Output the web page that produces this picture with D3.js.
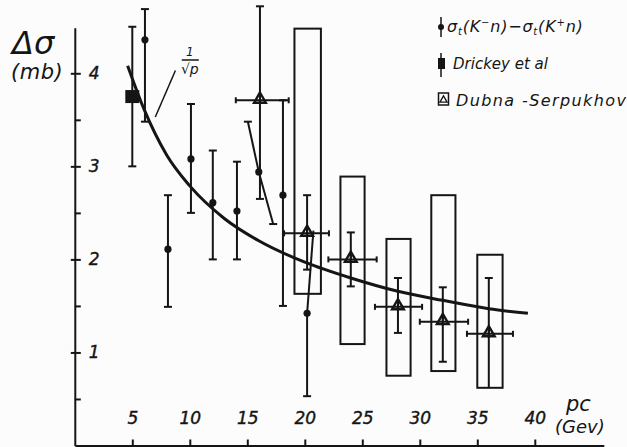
<!DOCTYPE html>
<html>
<head>
<meta charset="utf-8">
<script src="https://cdn.jsdelivr.net/npm/d3@7/dist/d3.min.js"></script>
<style>
  html, body { margin: 0; padding: 0; background: #fcfcfc; }
  svg { display: block; }
  text { font-family: "DejaVu Sans", sans-serif; font-style: italic; fill: #151515; }
</style>
</head>
<body>
<svg id="chart" width="627" height="447"></svg>
<script>
// ---------- data ----------
// sigma_t(K-n) - sigma_t(K+n): filled dots with error bars
const dotP  = [6.1, 8.1, 10.1, 12.0, 14.1, 16.0, 18.1, 20.2];
const dotF  = [4.36, 2.11, 3.08, 2.61, 2.52, 2.94, 2.69, 1.42];
const dotLo = [3.48, 1.49, 2.50, 2.00, 2.00, 2.38, 1.50, 0.53];
const dotHi = [4.69, 2.69, 3.67, 3.17, 3.05, 3.48, 3.71, 2.31];
// horizontal offset (GeV) of the bar ends where the bar is drawn askew
const dotLoShift = [0, 0, 0, 0, 0, 1.25, 0, 0];
const dotHiShift = [0, 0, 0, 0, 0, -0.95, 0, 0.55];

// Drickey et al
const drickeyP = [5.0];
const drickeyF = [3.75];
const drickeyLo = [3.0];
const drickeyHi = [4.5];

// Dubna - Serpukhov: triangles with x and y errors
const triP   = [16.1, 20.2, 24.0, 28.1, 32.0, 36.0];
const triF   = [3.71, 2.28, 2.00, 1.49, 1.33, 1.20];
const triLo  = [2.65, 1.89, 1.71, 1.21, 0.90, 0.62];
const triHi  = [4.72, 2.69, 2.29, 1.80, 1.70, 1.80];
const triPLo = [14.0, 18.2, 22.05, 26.1, 30.0, 34.1];
const triPHi = [18.6, 22.1, 26.25, 30.2, 34.2, 38.1];

// Dubna - Serpukhov systematic boxes
const boxPLo = [19.1, 23.1, 27.1, 31.0, 35.0];
const boxPHi = [21.4, 25.2, 29.2, 33.1, 37.2];
const boxLo  = [1.63, 1.09, 0.75, 0.80, 0.62];
const boxHi  = [4.48, 2.89, 2.22, 2.69, 2.05];

// 1/sqrt(p) curve, points
const curveP = [4.6, 6, 8, 10, 13, 16, 20, 24, 28, 32, 36, 39.4];
const curveF = [4.08, 3.62, 3.12, 2.79, 2.44, 2.2, 1.97, 1.80, 1.66, 1.56, 1.47, 1.42];

// ticks
const xTicks = [5, 10, 15, 20, 25, 30, 35, 40];
const yTicks = [1, 2, 3, 4];
const yMinorTicks = [0.5, 1.5, 2.5, 3.5];

// ---------- drawing ----------
const ink = "#151515";
const svg = d3.select("#chart");
const x = d3.scaleLinear().domain([0, 46]).range([74.8, 603.8]);
const y = d3.scaleLinear().domain([0, 4.49]).range([445.5, 27.7]);

// x axis (ticks pointing up, labels above)
const xAxis = svg.append("g")
  .attr("transform", `translate(0,${y(0)})`)
  .call(d3.axisTop(x).tickValues(xTicks).tickSize(6).tickSizeOuter(0).tickPadding(16).tickFormat(d3.format("d")));
xAxis.select(".domain").attr("stroke", ink).attr("stroke-width", 2);
xAxis.selectAll(".tick line").attr("stroke", ink).attr("stroke-width", 2);
xAxis.selectAll(".tick text")
  .attr("fill", ink).attr("font-size", 17).attr("font-style", "italic")
  .attr("font-family", "DejaVu Sans, sans-serif")
  .attr("stroke", ink).attr("stroke-width", 0.4);

// y axis
const yAxis = svg.append("g")
  .attr("transform", `translate(${x(0)},0)`)
  .call(d3.axisRight(y).tickValues(yTicks).tickSize(6).tickSizeOuter(0).tickPadding(8).tickFormat(d3.format("d")));
yAxis.select(".domain").attr("stroke", ink).attr("stroke-width", 2);
yAxis.selectAll(".tick line").attr("stroke", ink).attr("stroke-width", 2).attr("x1", -4);
yAxis.selectAll(".tick text")
  .attr("fill", ink).attr("font-size", 17).attr("font-style", "italic")
  .attr("font-family", "DejaVu Sans, sans-serif")
  .attr("stroke", ink).attr("stroke-width", 0.4);
const yMinor = svg.append("g")
  .attr("transform", `translate(${x(0)},0)`)
  .call(d3.axisRight(y).tickValues(yMinorTicks).tickSize(6).tickFormat(""));
yMinor.select(".domain").remove();
yMinor.selectAll(".tick line").attr("stroke", ink).attr("stroke-width", 2);

// axis titles
svg.append("text").attr("x", 12).attr("y", 54).attr("font-size", 32).text("Δσ");
svg.append("text").attr("x", 11).attr("y", 79).attr("font-size", 21).attr("letter-spacing", 0.5).text("(mb)");
svg.append("text").attr("x", 566).attr("y", 411).attr("font-size", 21).text("pc");
svg.append("text").attr("x", 555).attr("y", 433).attr("font-size", 18).text("(Gev)");

// boxes
const boxes = boxPLo.map((d, i) => ({p0: d, p1: boxPHi[i], lo: boxLo[i], hi: boxHi[i]}));
svg.append("g").selectAll("rect").data(boxes).join("rect")
  .attr("x", d => x(d.p0)).attr("width", d => x(d.p1) - x(d.p0))
  .attr("y", d => y(d.hi)).attr("height", d => y(d.lo) - y(d.hi))
  .attr("fill", "none").attr("stroke", ink).attr("stroke-width", 2);

// curve
const curvePts = curveP.map((p, i) => [p, curveF[i]]);
svg.append("path").datum(curvePts)
  .attr("d", d3.line().x(d => x(d[0])).y(d => y(d[1])).curve(d3.curveMonotoneX))
  .attr("fill", "none").attr("stroke", ink).attr("stroke-width", 3);

// curve label 1/sqrt(p)
const lab = svg.append("g").attr("transform", `translate(${x(10.0)},${y(4.1)})`);
lab.append("text").attr("x", 0).attr("y", -8).attr("font-size", 12).attr("text-anchor", "middle").text("1");
lab.append("line").attr("x1", -8).attr("x2", 9).attr("y1", -4).attr("y2", -4).attr("stroke", ink).attr("stroke-width", 1.5);
lab.append("text").attr("x", 0).attr("y", 10).attr("font-size", 14).attr("text-anchor", "middle").text("√p");
svg.append("line")
  .attr("x1", x(8.75)).attr("y1", y(4.03)).attr("x2", x(7.0)).attr("y2", y(3.53))
  .attr("stroke", ink).attr("stroke-width", 1.5);

// error bars helper
const eg = svg.append("g").attr("stroke", ink).attr("stroke-width", 2).attr("fill", "none");
function vbar(p, f, lo, hi, sLo, sHi, capLo, capHi) {
  eg.append("line").attr("x1", x(p)).attr("y1", y(f)).attr("x2", x(p + sHi)).attr("y2", y(hi));
  eg.append("line").attr("x1", x(p)).attr("y1", y(f)).attr("x2", x(p + sLo)).attr("y2", y(lo));
  if (capHi) eg.append("line").attr("x1", x(p + sHi) - 4).attr("x2", x(p + sHi) + 4).attr("y1", y(hi)).attr("y2", y(hi));
  if (capLo) eg.append("line").attr("x1", x(p + sLo) - 4).attr("x2", x(p + sLo) + 4).attr("y1", y(lo)).attr("y2", y(lo));
}
dotP.forEach((p, i) => {
  const capHi = !(i === 7);
  vbar(p, dotF[i], dotLo[i], dotHi[i], dotLoShift[i], dotHiShift[i], true, capHi);
});
drickeyP.forEach((p, i) => vbar(p, drickeyF[i], drickeyLo[i], drickeyHi[i], 0, 0, true, true));
triP.forEach((p, i) => {
  vbar(p, triF[i], triLo[i], triHi[i], 0, 0, i !== 5, true);
  eg.append("line").attr("x1", x(triPLo[i])).attr("x2", x(triPHi[i])).attr("y1", y(triF[i])).attr("y2", y(triF[i]));
  eg.append("line").attr("x1", x(triPLo[i])).attr("x2", x(triPLo[i])).attr("y1", y(triF[i]) - 3).attr("y2", y(triF[i]) + 3);
  eg.append("line").attr("x1", x(triPHi[i])).attr("x2", x(triPHi[i])).attr("y1", y(triF[i]) - 3).attr("y2", y(triF[i]) + 3);
});

// dots
svg.append("g").selectAll("circle").data(dotP.map((p, i) => [p, dotF[i]])).join("circle")
  .attr("cx", d => x(d[0])).attr("cy", d => y(d[1])).attr("r", 3.6).attr("fill", ink);

// Drickey square
svg.append("g").selectAll("rect").data(drickeyP.map((p, i) => [p, drickeyF[i]])).join("rect")
  .attr("x", d => x(d[0]) - 7).attr("y", d => y(d[1]) - 6.5).attr("width", 14).attr("height", 13).attr("fill", ink);

// triangles
const tri = d3.symbol().type(d3.symbolTriangle).size(60);
svg.append("g").selectAll("path").data(triP.map((p, i) => [p, triF[i]])).join("path")
  .attr("d", tri)
  .attr("transform", d => `translate(${x(d[0])},${y(d[1]) - 1})`)
  .attr("fill", "#fcfcfc").attr("stroke", ink).attr("stroke-width", 2.4);
// vertical bar through the triangles stays visible
triP.forEach((p, i) => {
  eg.append("line").attr("x1", x(p)).attr("x2", x(p)).attr("y1", y(triF[i]) - 5).attr("y2", y(triF[i]) + 4);
});
svg.node().appendChild(eg.node());

// legend
const leg = svg.append("g");
leg.append("line").attr("x1", 441).attr("x2", 441).attr("y1", 17).attr("y2", 37).attr("stroke", ink).attr("stroke-width", 1.5);
leg.append("circle").attr("cx", 441).attr("cy", 27).attr("r", 3).attr("fill", ink);
const t1 = leg.append("text").attr("x", 447).attr("y", 32).attr("font-size", 16).attr("letter-spacing", 0.8);
t1.append("tspan").text("σ");
t1.append("tspan").attr("font-size", 10).attr("dy", 3).text("t");
t1.append("tspan").attr("dy", -3).text("(K");
t1.append("tspan").attr("font-size", 10).attr("dy", -6).text("−");
t1.append("tspan").attr("dy", 6).text("n)−σ");
t1.append("tspan").attr("font-size", 10).attr("dy", 3).text("t");
t1.append("tspan").attr("dy", -3).text("(K");
t1.append("tspan").attr("font-size", 10).attr("dy", -6).text("+");
t1.append("tspan").attr("dy", 6).text("n)");

leg.append("line").attr("x1", 441).attr("x2", 441).attr("y1", 53).attr("y2", 77).attr("stroke", ink).attr("stroke-width", 1.5);
leg.append("rect").attr("x", 438).attr("y", 58).attr("width", 7).attr("height", 11).attr("fill", ink);
leg.append("text").attr("x", 453).attr("y", 69).attr("font-size", 15).text("Drickey  et al");

leg.append("rect").attr("x", 438.5).attr("y", 93).attr("width", 10).attr("height", 12).attr("fill", "none").attr("stroke", ink).attr("stroke-width", 1.5);
leg.append("path").attr("d", d3.symbol().type(d3.symbolTriangle).size(22)).attr("transform", "translate(443.5,100)")
  .attr("fill", "none").attr("stroke", ink).attr("stroke-width", 1.3);
leg.append("text").attr("x", 456).attr("y", 106).attr("font-size", 16).attr("letter-spacing", 1.4).text("Dubna -Serpukhov");
</script>
</body>
</html>
